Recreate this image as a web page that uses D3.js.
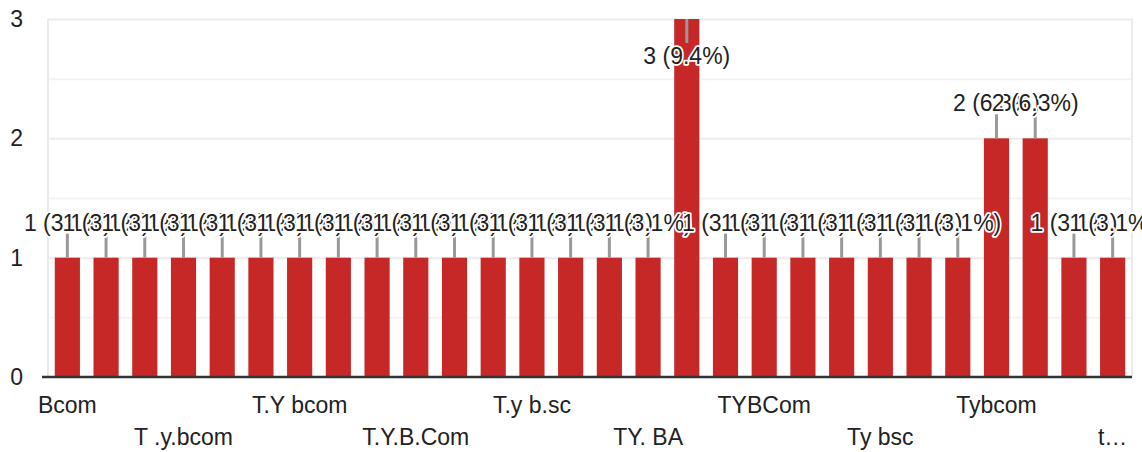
<!DOCTYPE html>
<html>
<head>
<meta charset="utf-8">
<script src="https://cdn.jsdelivr.net/npm/d3@7"></script>
<style>
  body { margin: 0; background: #fff; }
  svg { display: block; font-family: Arial, "Liberation Sans", sans-serif; }
</style>
</head>
<body>
<svg id="chart"></svg>
<script>
// responses per class name (every third name is shown on the axis)
const categories = [
  "Bcom", "Bsc", "T .Y.B.A", "T .y.bcom", "T. Y. Bcom", "T.Y BSC", "T.Y bcom",
  "T.Y. B.com", "T.Y.B.A", "T.Y.B.Com", "T.Y.BSc", "T.y b.com", "T.y b.sc",
  "T.y.bcom", "TY BSc", "TY. BA", "TYBA", "TYBBA", "TYBCom", "TYBSC",
  "Ty b.com", "Ty bsc", "Ty.bcom", "TyBcom", "Tybcom", "Tybsc", "t.y.bcom", "ty bcom"
];
const counts = [
  1, 1, 1, 1, 1, 1, 1, 1, 1, 1, 1, 1, 1, 1, 1, 1, 3, 1, 1, 1,
  1, 1, 1, 1, 2, 2, 1, 1
];
const yTicks = [0, 1, 2, 3];
const yMinor = [0.5, 1.5, 2.5];

const width = 1142;
const height = 452;
const padL = 48, padR = 1132, padT = 19, padB = 377;
const total = d3.sum(counts);

const svg = d3.select("#chart").attr("width", width).attr("height", height);

const x = d3.scaleBand()
  .domain(d3.range(categories.length))
  .range([padL, padR])
  .paddingInner(0.35)
  .paddingOuter(0.175);

const y = d3.scaleLinear().domain([0, 3]).range([padB, padT]);

// gridlines
svg.append("g")
  .attr("transform", "translate(" + padL + ",0)")
  .call(d3.axisLeft(y).tickValues(yMinor).tickSize(-(padR - padL)).tickFormat(""))
  .call(g => g.select(".domain").remove())
  .selectAll("line").attr("stroke", "#f4f4f4").attr("stroke-width", 2);

svg.append("g")
  .attr("transform", "translate(" + padL + ",0)")
  .call(d3.axisLeft(y).tickValues([1, 2, 3]).tickSize(-(padR - padL)).tickFormat(""))
  .call(g => g.select(".domain").remove())
  .selectAll("line").attr("stroke", "#ebebeb").attr("stroke-width", 2);

svg.append("line")
  .attr("x1", padL).attr("x2", padL).attr("y1", padT).attr("y2", padB)
  .attr("stroke", "#ebebeb").attr("stroke-width", 2);
svg.append("line")
  .attr("x1", padR).attr("x2", padR).attr("y1", padT).attr("y2", padB)
  .attr("stroke", "#ebebeb").attr("stroke-width", 2);

// y labels
svg.append("g")
  .attr("transform", "translate(" + padL + ",0)")
  .call(d3.axisLeft(y).tickValues(yTicks).tickSize(0).tickPadding(25).tickFormat(d3.format("d")))
  .call(g => g.select(".domain").remove())
  .selectAll("text")
  .attr("font-size", 23)
  .attr("font-family", "Arial, 'Liberation Sans', sans-serif")
  .attr("fill", "#222");

// bars
svg.append("g")
  .selectAll("rect")
  .data(counts)
  .enter()
  .append("rect")
  .attr("x", (d, i) => x(i))
  .attr("y", (d) => y(d))
  .attr("width", x.bandwidth())
  .attr("height", (d) => padB - y(d))
  .attr("fill", "#c62828");

// baseline
svg.append("line")
  .attr("x1", padL - 6).attr("x2", padR).attr("y1", padB).attr("y2", padB)
  .attr("stroke", "#333").attr("stroke-width", 2.5);

// annotation stems
const inside = (d) => y(d) - 50 < padT;
svg.append("g")
  .selectAll("line")
  .data(counts)
  .enter()
  .append("line")
  .attr("x1", (d, i) => x(i) + x.bandwidth() / 2)
  .attr("x2", (d, i) => x(i) + x.bandwidth() / 2)
  .attr("y1", (d) => y(d))
  .attr("y2", (d) => inside(d) ? y(d) + 24 : y(d) - 24)
  .attr("stroke", "#999")
  .attr("stroke-width", 3);

// annotation labels, drawn one after another so they overlap like the original
svg.append("g")
  .selectAll("text")
  .data(counts)
  .enter()
  .append("text")
  .attr("x", (d, i) => x(i) + x.bandwidth() / 2)
  .attr("y", (d) => inside(d) ? y(d) + 45 : y(d) - 27)
  .attr("text-anchor", "middle")
  .attr("font-size", 23)
  .attr("fill", "#222")
  .attr("stroke", "#fff")
  .attr("stroke-width", 3.5)
  .attr("stroke-linejoin", "round")
  .attr("paint-order", "stroke")
  .text((d) => d + " (" + (d / total * 100).toFixed(1) + "%)");

// x labels: every third name, on two staggered rows
const xAxis = d3.axisBottom(x)
  .tickSize(0)
  .tickFormat((i) => i % 3 === 0 ? categories[i] : "");

svg.append("g")
  .attr("transform", "translate(0," + padB + ")")
  .call(xAxis)
  .call(g => g.select(".domain").remove())
  .selectAll("text")
  .attr("font-size", 23)
  .attr("font-family", "Arial, 'Liberation Sans', sans-serif")
  .attr("fill", "#222")
  .attr("dy", null)
  .attr("y", (i) => (i / 3) % 2 === 0 ? 36 : 68)
  .each(function (i) {
    if (i % 3 !== 0) return;
    const t = d3.select(this);
    const cx = x(i) + x.bandwidth() / 2;
    let s = categories[i];
    while (cx + this.getComputedTextLength() / 2 > padR && s.length > 1) {
      s = s.slice(0, -1);
      t.text(s + "…");
    }
  });
</script>
</body>
</html>
